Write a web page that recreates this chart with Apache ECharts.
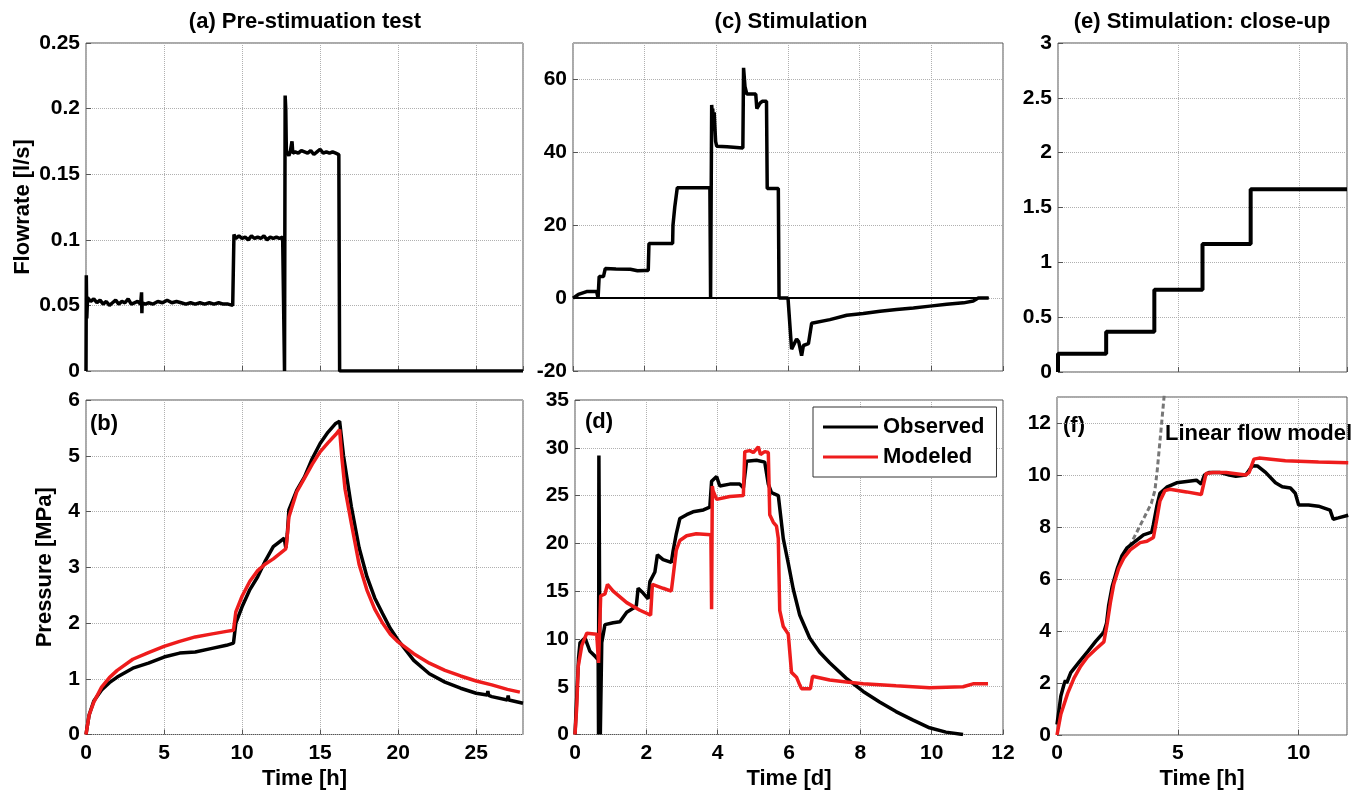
<!DOCTYPE html>
<html>
<head>
<meta charset="utf-8">
<script src="https://cdn.jsdelivr.net/npm/echarts@6/dist/echarts.min.js"></script>
<style>
  html, body { margin: 0; padding: 0; background: #fff; }
  #chart { width: 1356px; height: 795px; }
</style>
</head>
<body>
<div id="chart"></div>
<script>
// (a) pre-stimulation flow rate [l/s] vs time [h]
const aTime = [0, 0.02, 0.05, 0.1, 0.3, 0.5, 0.7, 0.9, 1.1, 1.3, 1.5, 1.7, 1.9, 2.1, 2.3, 2.5, 2.7, 2.9, 3.1, 3.3, 3.5, 3.56, 3.58, 3.6, 3.8, 4.0, 4.3, 4.6, 4.9, 5.2, 5.5, 5.8, 6.1, 6.4, 6.7, 7.0, 7.3, 7.6, 7.9, 8.2, 8.5, 8.8, 9.1, 9.4, 9.46, 9.48, 9.6, 9.8, 10.0, 10.2, 10.4, 10.6, 10.8, 11.0, 11.2, 11.4, 11.6, 11.8, 12.0, 12.2, 12.4, 12.6, 12.7, 12.72, 12.76, 12.8, 12.84, 12.9, 13.0, 13.1, 13.2, 13.25, 13.4, 13.6, 13.8, 14.0, 14.2, 14.4, 14.6, 14.8, 15.0, 15.2, 15.4, 15.6, 15.8, 16.0, 16.2, 16.25, 28];
const aFlow = [0, 0.073, 0.04, 0.056, 0.053, 0.055, 0.052, 0.054, 0.051, 0.053, 0.050, 0.052, 0.054, 0.051, 0.053, 0.052, 0.055, 0.051, 0.052, 0.053, 0.051, 0.060, 0.044, 0.052, 0.051, 0.052, 0.051, 0.053, 0.052, 0.054, 0.052, 0.053, 0.052, 0.051, 0.052, 0.051, 0.052, 0.051, 0.052, 0.051, 0.052, 0.051, 0.051, 0.050, 0.050, 0.104, 0.101, 0.103, 0.101, 0.102, 0.100, 0.103, 0.101, 0.102, 0.101, 0.103, 0.100, 0.102, 0.101, 0.102, 0.101, 0.102, 0.102, 0, 0.21, 0.2, 0.165, 0.167, 0.164, 0.168, 0.175, 0.166, 0.167, 0.166, 0.168, 0.167, 0.166, 0.168, 0.165, 0.167, 0.169, 0.166, 0.167, 0.166, 0.167, 0.166, 0.165, 0, 0];

// (b) pre-stimulation pressure [MPa]
const bTimeObs = [0, 0.2, 0.5, 1, 1.5, 2, 3, 4, 5, 6, 7, 8, 9, 9.45, 9.6, 10, 10.5, 11, 11.5, 12, 12.7, 12.8, 12.9, 13, 13.5, 14, 14.5, 15, 15.5, 16, 16.25, 16.5, 17, 17.5, 18, 18.5, 19, 19.5, 20, 21, 22, 23, 24, 25, 25.7, 25.75, 25.8, 26, 27, 27.05, 27.1, 28];
const bObs = [0, 0.35, 0.6, 0.8, 0.93, 1.03, 1.19, 1.28, 1.39, 1.46, 1.48, 1.54, 1.6, 1.64, 2.0, 2.29, 2.6, 2.83, 3.12, 3.37, 3.52, 3.35, 3.6, 4.03, 4.38, 4.62, 4.95, 5.22, 5.42, 5.58, 5.62, 5.0, 4.09, 3.35, 2.83, 2.45, 2.17, 1.9, 1.69, 1.33, 1.09, 0.94, 0.83, 0.74, 0.71, 0.78, 0.7, 0.68, 0.62, 0.7, 0.62, 0.56];
const bTimeMod = [0, 0.2, 0.5, 1, 1.5, 2, 3, 4, 5, 6, 7, 8, 9, 9.45, 9.6, 10, 10.5, 11, 11.5, 12, 12.8, 12.85, 13, 13.5, 14, 14.5, 15, 15.5, 16, 16.25, 16.4, 16.6, 17, 17.5, 18, 18.5, 19, 19.5, 20, 21, 22, 23, 24, 25, 26, 27, 27.8];
const bMod = [0, 0.35, 0.58, 0.85, 1.02, 1.15, 1.35, 1.47, 1.58, 1.67, 1.75, 1.8, 1.85, 1.87, 2.2, 2.48, 2.75, 2.94, 3.06, 3.15, 3.33, 3.42, 3.9, 4.35, 4.6, 4.85, 5.07, 5.23, 5.38, 5.47, 4.95, 4.4, 3.79, 3.05, 2.59, 2.25, 2.0, 1.8, 1.66, 1.45, 1.28, 1.15, 1.05, 0.96, 0.89, 0.81, 0.76];

// (c) stimulation flow rate vs time [d]
const cTime = [0, 0.15, 0.38, 0.66, 0.7, 0.72, 0.73, 0.85, 0.9, 1.2, 1.6, 1.8, 2.0, 2.1, 2.12, 2.13, 2.5, 2.78, 2.79, 2.82, 2.84, 2.88, 2.91, 2.92, 3.3, 3.82, 3.84, 3.86, 3.87, 3.89, 3.9, 3.92, 3.94, 3.96, 3.98, 4.01, 4.3, 4.74, 4.76, 4.8, 4.85, 4.9, 5.1, 5.13, 5.16, 5.22, 5.28, 5.4, 5.42, 5.73, 5.75, 6.0, 6.1, 6.24, 6.3, 6.38, 6.43, 6.57, 6.66, 7.17, 7.64, 8.1, 8.57, 9.03, 9.5, 9.96, 10.43, 10.9, 11.17, 11.31, 11.6];
const cFlow = [0, 1, 1.8, 1.8, 0, 0, 5.9, 5.9, 8.1, 8.0, 7.9, 7.5, 7.6, 7.6, 15, 15, 15, 15, 20, 20, 25, 25, 30.3, 30.3, 30.3, 30.3, 0, 0, 53, 50, 52, 46, 51, 47, 43, 41.7, 41.5, 41.2, 63.2, 58, 56, 56, 56, 52, 51.8, 53.5, 54, 54, 30.1, 30.1, 0, 0, -14, -11.2, -12, -15.8, -13, -12.5, -6.9, -5.9, -4.7, -4.2, -3.6, -3.1, -2.7, -2.2, -1.7, -1.3, -0.8, 0, 0];
const cBaseTime = [0, 11.6];
const cBase = [0, 0];

// (d) stimulation pressure [MPa]
const dTimeObs = [0, 0.1, 0.14, 0.28, 0.42, 0.56, 0.65, 0.66, 0.67, 0.70, 0.71, 0.75, 0.84, 1.07, 1.26, 1.45, 1.63, 1.72, 1.77, 1.91, 2.05, 2.1, 2.24, 2.31, 2.47, 2.7, 2.75, 2.84, 2.94, 3.13, 3.31, 3.6, 3.78, 3.83, 3.97, 4.06, 4.34, 4.62, 4.72, 4.81, 5.09, 5.32, 5.42, 5.51, 5.7, 5.84, 5.98, 6.12, 6.3, 6.58, 6.86, 7.14, 7.6, 8.08, 8.54, 9.0, 9.48, 9.94, 10.4, 10.88];
const dObs = [0, 8.0, 9.6, 10.1, 8.7, 8.2, 7.8, 0, 29.2, 29.2, 0, 9.6, 11.5, 11.7, 11.8, 12.8, 13.2, 13.5, 15.3, 14.8, 14.2, 16, 17, 18.8, 18.3, 18, 19.2, 21, 22.6, 23, 23.3, 23.5, 23.8, 26.5, 27, 26, 26.2, 26.2, 25.8, 28.6, 28.7, 28.5, 26.2, 25.3, 25, 20.5, 17.9, 15.2, 12.5, 10.1, 8.6, 7.5, 5.9, 4.5, 3.4, 2.4, 1.5, 0.7, 0.25, 0];
const dTimeMod = [0, 0.05, 0.09, 0.19, 0.33, 0.61, 0.66, 0.67, 0.72, 0.84, 0.91, 1.07, 1.45, 1.82, 2.12, 2.17, 2.47, 2.7, 2.75, 2.84, 2.94, 3.13, 3.4, 3.81, 3.83, 3.85, 3.87, 3.97, 4.34, 4.72, 4.76, 4.9, 5.0, 5.14, 5.2, 5.32, 5.42, 5.46, 5.56, 5.65, 5.7, 5.74, 5.84, 5.98, 6.07, 6.21, 6.3, 6.35, 6.6, 6.63, 6.66, 7.14, 7.61, 8.08, 9.0, 9.94, 10.88, 11.16, 11.58];
const dMod = [0, 3, 7.1, 9.3, 10.6, 10.5, 7.5, 7.5, 14.5, 14.7, 15.7, 15.0, 13.8, 13.0, 12.5, 15.7, 15.3, 15.0, 16.5, 19.3, 20.3, 20.8, 21.0, 20.9, 13.1, 26, 25.5, 24.6, 24.9, 25, 29.6, 29.7, 29.5, 30.1, 29.3, 29.6, 29.5, 23, 22.2, 21.8, 20.5, 13, 11.3, 10.5, 6.5, 6.0, 5.2, 4.8, 4.8, 5.0, 6.1, 5.7, 5.5, 5.3, 5.1, 4.9, 5.0, 5.3, 5.3];

// (e) close-up of the first injection steps [l/s] vs time [h]
const eTime = [0, 0, 2, 4, 6, 8, 12];
const eFlow = [0, 0.167, 0.367, 0.75, 1.167, 1.667, 1.667];

// (f) close-up pressure [MPa]
const fTimeObs = [0, 0.16, 0.3, 0.35, 0.4, 0.57, 0.92, 1.26, 1.6, 1.94, 2.05, 2.14, 2.28, 2.49, 2.69, 2.9, 3.17, 3.58, 3.92, 3.99, 4.13, 4.26, 4.54, 4.95, 5.36, 5.77, 5.97, 6.1, 6.31, 6.72, 7.13, 7.4, 7.81, 8.09, 8.29, 8.63, 9.04, 9.32, 9.66, 9.86, 10.0, 10.41, 10.82, 11.3, 11.43, 11.64, 12.05];
const fObs = [0.4, 1.5, 1.98, 2.1, 2.0, 2.4, 2.81, 3.2, 3.6, 3.96, 4.3, 5.0, 5.7, 6.39, 6.9, 7.2, 7.4, 7.7, 7.8, 8.1, 8.8, 9.3, 9.53, 9.7, 9.75, 9.8, 9.65, 10.0, 10.1, 10.1, 10.0, 9.95, 10.0, 10.36, 10.35, 10.1, 9.7, 9.55, 9.5, 9.3, 8.85, 8.85, 8.8, 8.65, 8.3, 8.35, 8.45];
const fTimeMod = [0, 0.16, 0.44, 0.71, 0.98, 1.26, 1.6, 1.94, 2.08, 2.21, 2.35, 2.55, 2.76, 3.03, 3.44, 3.72, 3.99, 4.13, 4.26, 4.47, 4.67, 5.36, 5.97, 6.17, 6.45, 7.0, 7.81, 7.95, 8.15, 8.36, 9.45, 10.82, 12.05];
const fMod = [0, 0.8, 1.6, 2.2, 2.65, 3.0, 3.3, 3.58, 4.3, 5.1, 5.8, 6.4, 6.8, 7.12, 7.4, 7.45, 7.6, 8.3, 9.0, 9.4, 9.45, 9.35, 9.25, 10.06, 10.1, 10.1, 10.0, 10.1, 10.61, 10.65, 10.55, 10.5, 10.47];
const fTimeLin = [2.7, 3.0, 3.3, 3.6, 3.9, 4.05, 4.15, 4.25, 4.35, 4.45];
const fLin = [6.7, 7.25, 7.8, 8.35, 8.9, 9.4, 10.2, 11.2, 12.2, 13.2];

const zip = (xs, ys) => xs.map((x, i) => [x, ys[i]]);

const FONT = "'Liberation Sans', Arial, sans-serif";
const BLACK = '#000000';
const RED = '#ee1c1c';

const labelStyle = { color: '#000', fontFamily: FONT, fontWeight: 'bold', fontSize: 21 };
const nameStyle = { color: '#000', fontFamily: FONT, fontWeight: 'bold', fontSize: 22 };

function grid(left, top, width, height) {
  return {
    left, top, width, height,
    show: true, borderColor: '#555', borderWidth: 1, backgroundColor: 'transparent',
    containLabel: false, outerBoundsMode: 'none'
  };
}

function xAxis(gridIndex, min, max, interval, opts) {
  opts = opts || {};
  return Object.assign({
    type: 'value', gridIndex, min, max, interval,
    axisLine: { show: false, onZero: false },
    axisTick: { show: true, inside: true, length: 5, lineStyle: { color: '#555' } },
    axisLabel: Object.assign({ show: opts.labels !== false, margin: 8, showMaxLabel: opts.showMax !== false }, labelStyle),
    splitLine: { show: true, lineStyle: { color: '#b0b0b0', type: 'dotted', width: 1 } }
  }, opts.name ? { name: opts.name, nameLocation: 'middle', nameGap: 33, nameTextStyle: nameStyle } : {});
}

function yAxis(gridIndex, min, max, interval, opts) {
  opts = opts || {};
  return Object.assign({
    type: 'value', gridIndex, min, max, interval,
    axisLine: { show: false, onZero: false },
    axisTick: { show: true, inside: true, length: 5, lineStyle: { color: '#555' } },
    axisLabel: Object.assign({ margin: 6, showMaxLabel: opts.showMax !== false }, labelStyle),
    splitLine: { show: true, lineStyle: { color: '#b0b0b0', type: 'dotted', width: 1 } }
  }, opts.name ? { name: opts.name, nameLocation: 'middle', nameGap: opts.nameGap, nameTextStyle: nameStyle } : {});
}

function line(name, idx, data, color, width, extra) {
  return Object.assign({
    name, type: 'line', xAxisIndex: idx, yAxisIndex: idx, data,
    symbol: 'none', showSymbol: false, clip: true, animation: false,
    lineStyle: { color, width }, itemStyle: { color }
  }, extra || {});
}

const chart = echarts.init(document.getElementById('chart'), null, { renderer: 'canvas' });

chart.setOption({
  backgroundColor: '#fff',
  animation: false,
  title: [
    { text: '(a) Pre-stimuation test', left: 300, top: 6, textAlign: 'center', textStyle: nameStyle },
    { text: '(c) Stimulation', left: 786, top: 6, textAlign: 'center', textStyle: nameStyle },
    { text: '(e) Stimulation: close-up', left: 1197, top: 6, textAlign: 'center', textStyle: nameStyle }
  ],
  legend: {
    data: ['Observed', 'Modeled'],
    orient: 'vertical', left: 813, top: 407,
    icon: 'rect', itemWidth: 55, itemHeight: 3, itemGap: 8,
    padding: [9, 12, 9, 10],
    backgroundColor: '#fff', borderColor: '#333', borderWidth: 1,
    textStyle: { color: '#000', fontFamily: FONT, fontWeight: 'bold', fontSize: 22 },
    selectedMode: false
  },
  grid: [
    grid(86, 43, 437, 328),
    grid(86, 400, 437, 334.5),
    grid(573, 43, 430, 328),
    grid(575, 400, 428, 334.5),
    grid(1058, 43, 289, 329),
    grid(1057, 397, 290, 338)
  ],
  xAxis: [
    xAxis(0, 0, 28, 5, { labels: false }),
    xAxis(1, 0, 28, 5, { showMax: false, name: 'Time [h]' }),
    xAxis(2, 0, 12, 2, { labels: false }),
    xAxis(3, 0, 12, 2, { name: 'Time [d]' }),
    xAxis(4, 0, 12, 5, { labels: false }),
    xAxis(5, 0, 12, 5, { showMax: false, name: 'Time [h]' })
  ],
  yAxis: [
    yAxis(0, 0, 0.25, 0.05, { name: 'Flowrate [l/s]', nameGap: 52 }),
    yAxis(1, 0, 6, 1, { name: 'Pressure [MPa]', nameGap: 30 }),
    yAxis(2, -20, 70, 20, { showMax: false }),
    yAxis(3, 0, 35, 5),
    yAxis(4, 0, 3, 0.5),
    yAxis(5, 0, 13, 2, { showMax: false })
  ],
  graphic: [
    { type: 'text', left: 90, top: 413, style: { text: '(b)', fill: '#000', font: 'bold 22px ' + FONT } },
    { type: 'text', left: 585, top: 411, style: { text: '(d)', fill: '#000', font: 'bold 22px ' + FONT } },
    { type: 'text', left: 1063, top: 415, style: { text: '(f)', fill: '#000', font: 'bold 22px ' + FONT } },
    { type: 'text', left: 1165, top: 423, style: { text: 'Linear flow model', fill: '#000', font: 'bold 22px ' + FONT } }
  ],
  series: [
    line('Flow a', 0, zip(aTime, aFlow), BLACK, 3.5),
    line('Observed', 1, zip(bTimeObs, bObs), BLACK, 3.5),
    line('Modeled', 1, zip(bTimeMod, bMod), RED, 3.5),
    line('Zero c', 2, zip(cBaseTime, cBase), BLACK, 2),
    line('Flow c', 2, zip(cTime, cFlow), BLACK, 3.5),
    line('Observed', 3, zip(dTimeObs, dObs), BLACK, 3.5),
    line('Modeled', 3, zip(dTimeMod, dMod), RED, 3.5),
    line('Flow e', 4, zip(eTime, eFlow), BLACK, 4, { step: 'end' }),
    line('Linear flow model', 5, zip(fTimeLin, fLin), '#777777', 3, { lineStyle: { color: '#777777', width: 3, type: [5, 3] } }),
    line('Observed', 5, zip(fTimeObs, fObs), BLACK, 3.5),
    line('Modeled', 5, zip(fTimeMod, fMod), RED, 3.5)
  ]
});
</script>
</body>
</html>
